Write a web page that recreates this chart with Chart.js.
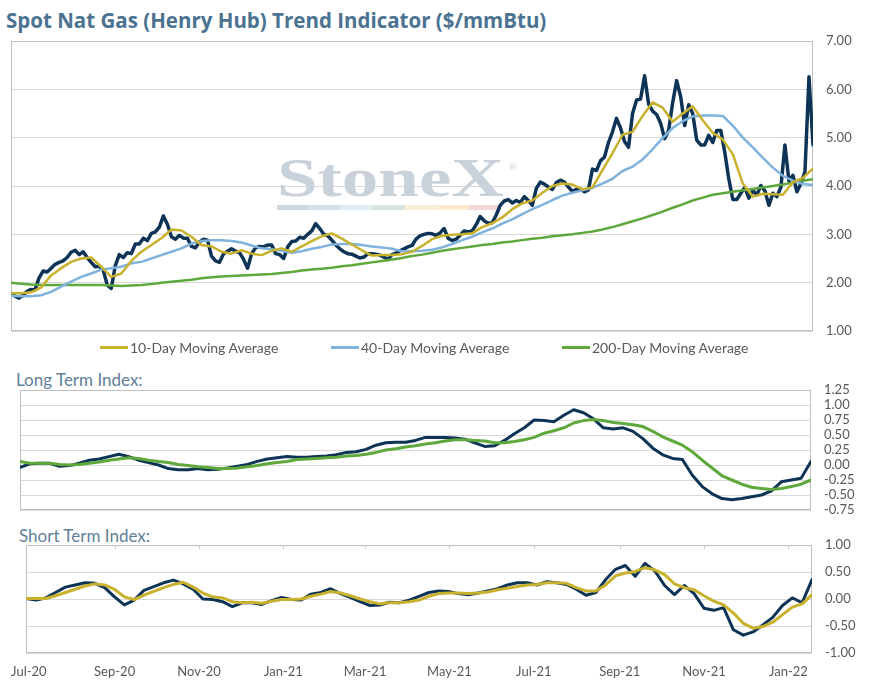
<!DOCTYPE html>
<html>
<head>
<meta charset="utf-8">
<title>Spot Nat Gas (Henry Hub) Trend Indicator</title>
<script src="https://cdn.jsdelivr.net/npm/chart.js@4.4.1/dist/chart.umd.min.js"></script>
<style>
  body { margin: 0; background: #fff; width: 875px; height: 685px; position: relative; overflow: hidden; font-family: Lato, sans-serif; }
  canvas { position: absolute; left: 0; }
  #title { position: absolute; left: 6px; top: 6px; font-family: "Open Sans", sans-serif; font-size: 20.5px; font-weight: bold; color: #4b7391; white-space: nowrap; }
  .sub { position: absolute; font-size: 17px; color: #5f8098; white-space: nowrap; }
  #legend { position: absolute; left: 100px; top: 339px; display: flex; font-size: 14px; color: #595959; }
  #legend .item { width: 231px; display: flex; align-items: center; white-space: nowrap; }
  #legend .swatch { width: 28px; height: 3px; margin-right: 2px; }
</style>
</head>
<body>
<div id="title">Spot Nat Gas (Henry Hub) Trend Indicator ($/mmBtu)</div>
<canvas id="priceChart" width="875" height="310" style="top:31px"></canvas>
<div id="legend"></div>
<div class="sub" style="left:16px;top:369px">Long Term Index:</div>
<canvas id="longChart" width="875" height="140" style="top:380px"></canvas>
<div class="sub" style="left:19px;top:525px">Short Term Index:</div>
<canvas id="shortChart" width="875" height="150" style="top:535px"></canvas>

<script>
// days counted from 29 Jun 2020, last point ~18 Jan 2022
const spanDays = 568;
const spotStep = 2.84;   // spot sampled roughly every other trading day
const weekStep = 7.1;    // averages / indices sampled weekly

const monthLabels = ['Jul-20', 'Sep-20', 'Nov-20', 'Jan-21', 'Mar-21', 'May-21', 'Jul-21', 'Sep-21', 'Nov-21', 'Jan-22'];
const monthDays = [2, 64, 125, 186, 245, 306, 367, 429, 490, 551];

const priceTicks = [1, 2, 3, 4, 5, 6, 7];
const longTicks = [-0.75, -0.5, -0.25, 0, 0.25, 0.5, 0.75, 1, 1.25];
const shortTicks = [-1, -0.5, 0, 0.5, 1];

// Henry Hub spot, $/mmBtu
const spotPrice = [
  1.78, 1.72, 1.68, 1.74, 1.82, 1.86, 1.85, 2.10, 2.24, 2.22,
  2.30, 2.38, 2.42, 2.45, 2.52, 2.63, 2.67, 2.58, 2.64, 2.52,
  2.42, 2.33, 2.34, 2.26, 1.95, 1.88, 2.35, 2.58, 2.52, 2.62,
  2.60, 2.80, 2.80, 2.92, 2.87, 3.02, 3.05, 3.15, 3.38, 3.21,
  2.95, 2.90, 2.98, 2.92, 2.92, 2.75, 2.72, 2.84, 2.90, 2.88,
  2.55, 2.45, 2.42, 2.60, 2.65, 2.70, 2.65, 2.62, 2.48, 2.30,
  2.60, 2.72, 2.75, 2.74, 2.78, 2.78, 2.60, 2.58, 2.50, 2.74,
  2.85, 2.86, 2.94, 2.92, 3.00, 3.07, 3.22, 3.12, 3.00, 2.97,
  2.88, 2.78, 2.70, 2.64, 2.60, 2.59, 2.55, 2.51, 2.53, 2.60,
  2.60, 2.59, 2.57, 2.53, 2.48, 2.58, 2.61, 2.66, 2.70, 2.74,
  2.77, 2.90, 2.97, 3.00, 3.02, 3.01, 2.98, 3.03, 3.12, 2.92,
  2.87, 2.90, 2.98, 3.07, 3.05, 3.07, 3.20, 3.37, 3.28, 3.23,
  3.24, 3.40, 3.60, 3.69, 3.72, 3.65, 3.70, 3.66, 3.78, 3.70,
  3.60, 3.95, 4.08, 4.04, 3.98, 3.93, 4.07, 4.12, 4.08, 3.98,
  3.89, 3.93, 3.94, 3.88, 3.92, 4.35, 4.32, 4.52, 4.60, 4.90,
  5.12, 5.40, 5.20, 4.92, 4.80, 5.50, 5.78, 5.80, 6.28, 5.70,
  5.55, 5.48, 5.30, 4.98, 5.15, 5.72, 6.18, 5.85, 5.25, 5.68,
  5.50, 4.95, 4.85, 4.85, 5.05, 4.90, 5.15, 5.15, 4.70, 4.15,
  3.72, 3.72, 3.85, 3.97, 3.75, 3.90, 3.82, 4.01, 3.90, 3.60,
  3.85, 3.78, 3.98, 4.85, 4.10, 4.22, 3.88, 4.05, 4.30, 6.26,
  4.85
];

const ma10 = [
  1.78, 1.78, 1.80, 1.90, 2.15, 2.30, 2.43, 2.50, 2.52, 2.33,
  2.12, 2.19, 2.45, 2.64, 2.78, 2.92, 3.10, 3.08, 2.95, 2.78,
  2.75, 2.64, 2.60, 2.67, 2.60, 2.57, 2.66, 2.71, 2.64, 2.75,
  2.86, 2.96, 3.02, 2.91, 2.79, 2.67, 2.56, 2.57, 2.57, 2.59,
  2.64, 2.76, 2.90, 2.97, 2.99, 3.00, 3.02, 3.15, 3.23, 3.35,
  3.52, 3.64, 3.70, 3.86, 4.00, 4.05, 4.03, 3.93, 3.97, 4.33,
  4.68, 5.06, 5.12, 5.45, 5.73, 5.62, 5.33, 5.50, 5.65, 5.36,
  5.10, 4.96, 4.66, 4.05, 3.78, 3.84, 3.83, 3.82, 4.08, 4.17,
  4.36
];

const ma40 = [
  1.73, 1.72, 1.72, 1.74, 1.81, 1.92, 2.02, 2.12, 2.19, 2.27,
  2.30, 2.33, 2.40, 2.43, 2.50, 2.57, 2.64, 2.71, 2.81, 2.86,
  2.88, 2.88, 2.86, 2.83, 2.77, 2.71, 2.69, 2.66, 2.62, 2.65,
  2.70, 2.74, 2.79, 2.80, 2.80, 2.78, 2.75, 2.73, 2.70, 2.65,
  2.65, 2.66, 2.68, 2.73, 2.80, 2.88, 2.95, 3.04, 3.12, 3.22,
  3.31, 3.42, 3.52, 3.61, 3.71, 3.80, 3.86, 3.91, 3.96, 4.05,
  4.15, 4.31, 4.40, 4.55, 4.76, 4.99, 5.20, 5.34, 5.44, 5.46,
  5.46, 5.45, 5.25, 5.00, 4.80, 4.58, 4.38, 4.21, 4.11, 4.04,
  4.02
];

const ma200 = [
  2.00, 1.98, 1.96, 1.95, 1.95, 1.95, 1.95, 1.95, 1.95, 1.95,
  1.94, 1.93, 1.94, 1.95, 1.97, 2.00, 2.02, 2.04, 2.06, 2.09,
  2.11, 2.13, 2.14, 2.15, 2.16, 2.17, 2.18, 2.20, 2.22, 2.25,
  2.27, 2.29, 2.31, 2.34, 2.36, 2.39, 2.42, 2.45, 2.48, 2.51,
  2.55, 2.58, 2.62, 2.66, 2.69, 2.72, 2.75, 2.78, 2.80, 2.83,
  2.85, 2.88, 2.91, 2.93, 2.96, 2.98, 3.00, 3.03, 3.06, 3.10,
  3.15, 3.21, 3.27, 3.33, 3.40, 3.47, 3.55, 3.62, 3.70, 3.76,
  3.82, 3.85, 3.88, 3.91, 3.94, 3.97, 4.00, 4.03, 4.07, 4.11,
  4.14
];

const longIndex = [
  -0.04, 0.02, 0.03, 0.03, -0.02, -0.01, 0.03, 0.08, 0.10, 0.14,
  0.18, 0.14, 0.08, 0.04, 0.00, -0.06, -0.08, -0.08, -0.06, -0.08,
  -0.07, -0.05, -0.02, 0.01, 0.06, 0.10, 0.12, 0.14, 0.13, 0.13,
  0.14, 0.15, 0.17, 0.21, 0.22, 0.26, 0.33, 0.37, 0.38, 0.38,
  0.41, 0.46, 0.46, 0.46, 0.45, 0.43, 0.37, 0.31, 0.32, 0.41,
  0.52, 0.62, 0.75, 0.74, 0.72, 0.83, 0.92, 0.87, 0.77, 0.62,
  0.60, 0.62, 0.56, 0.44, 0.28, 0.17, 0.11, 0.09, -0.17, -0.36,
  -0.48, -0.56, -0.58, -0.56, -0.53, -0.50, -0.43, -0.28, -0.25, -0.22,
  0.06
];

const longSignal = [
  0.06, 0.03, 0.03, 0.03, 0.01, 0.00, 0.01, 0.03, 0.05, 0.08,
  0.10, 0.12, 0.11, 0.08, 0.06, 0.04, 0.01, -0.01, -0.03, -0.04,
  -0.06, -0.06, -0.05, -0.03, -0.01, 0.02, 0.04, 0.06, 0.09, 0.10,
  0.11, 0.12, 0.13, 0.15, 0.16, 0.18, 0.21, 0.25, 0.27, 0.30,
  0.32, 0.35, 0.37, 0.40, 0.42, 0.42, 0.41, 0.40, 0.37, 0.37,
  0.39, 0.42, 0.46, 0.53, 0.57, 0.62, 0.70, 0.74, 0.76, 0.74,
  0.71, 0.69, 0.67, 0.64, 0.56, 0.47, 0.40, 0.33, 0.22, 0.08,
  -0.05, -0.18, -0.25, -0.32, -0.37, -0.39, -0.41, -0.39, -0.36, -0.32,
  -0.25
];

const shortIndex = [
  0.01, -0.02, 0.02, 0.12, 0.22, 0.26, 0.30, 0.29, 0.21, 0.04,
  -0.11, -0.02, 0.16, 0.23, 0.30, 0.35, 0.28, 0.18, 0.00, -0.01,
  -0.05, -0.14, -0.07, -0.07, -0.10, -0.03, 0.03, -0.01, -0.02, 0.09,
  0.12, 0.19, 0.10, 0.03, -0.05, -0.12, -0.11, -0.06, -0.07, -0.02,
  0.05, 0.12, 0.15, 0.14, 0.10, 0.08, 0.11, 0.15, 0.19, 0.26,
  0.30, 0.30, 0.26, 0.32, 0.30, 0.27, 0.18, 0.07, 0.12, 0.36,
  0.55, 0.62, 0.42, 0.66, 0.52, 0.25, 0.08, 0.25, 0.10, -0.17,
  -0.21, -0.16, -0.57, -0.67, -0.61, -0.48, -0.34, -0.12, 0.02, -0.07,
  0.36
];

const shortSignal = [
  0.01, 0.01, 0.01, 0.06, 0.12, 0.18, 0.24, 0.28, 0.26, 0.18,
  0.04, -0.01, 0.07, 0.14, 0.21, 0.27, 0.31, 0.22, 0.11, 0.04,
  0.02, -0.05, -0.07, -0.06, -0.08, -0.04, -0.01, -0.01, 0.00, 0.05,
  0.09, 0.14, 0.11, 0.06, 0.00, -0.05, -0.09, -0.07, -0.07, -0.05,
  -0.02, 0.05, 0.10, 0.11, 0.11, 0.10, 0.11, 0.13, 0.17, 0.20,
  0.23, 0.26, 0.27, 0.30, 0.30, 0.29, 0.21, 0.15, 0.15, 0.26,
  0.43, 0.48, 0.51, 0.58, 0.54, 0.45, 0.28, 0.21, 0.17, 0.06,
  -0.04, -0.11, -0.26, -0.45, -0.54, -0.51, -0.43, -0.29, -0.15, -0.09,
  0.08
];

const NAVY = '#0d3456';
const GOLD = '#c8b12c';
const SKY = '#7fb2dc';
const GREEN = '#5ea83c';

Chart.defaults.font.family = 'Lato';
Chart.defaults.color = '#595959';

const toPoints = (vals, step) => vals.map((v, i) => ({ x: i * step, y: v }));

const lineSet = (label, vals, step, color, width) => ({
  label,
  data: toPoints(vals, step),
  borderColor: color,
  backgroundColor: color,
  borderWidth: width,
  pointRadius: 0,
  tension: 0,
  borderJoinStyle: 'round',
  borderCapStyle: 'round'
});

function xAxis(show) {
  const axis = {
    type: 'linear',
    min: 0,
    max: spanDays,
    display: show,
    grid: { display: false, drawTicks: false },
    border: { display: false }
  };
  if (show) {
    axis.afterBuildTicks = s => { s.ticks = monthDays.map(v => ({ value: v })); };
    axis.afterFit = s => { s.height = 32; };
    axis.ticks = {
      padding: 11, autoSkip: false, maxRotation: 0,
      font: { size: 13 },
      callback: (v, i) => monthLabels[i]
    };
  }
  return axis;
}

// right-hand value axis; the gap to the labels comes from an invisible tick
// so it does not add to the vertical padding
function yAxis(min, max, ticks, width) {
  return {
    position: 'right',
    min,
    max,
    afterBuildTicks: s => { s.ticks = ticks.map(v => ({ value: v })); },
    afterFit: s => { s.width = width; },
    grid: { color: '#d9d9d9', drawTicks: true, tickLength: 13, tickColor: 'rgba(0,0,0,0)' },
    border: { display: false },
    ticks: {
      padding: 0, autoSkip: false,
      font: { size: 13 },
      callback: v => v.toFixed(2)
    }
  };
}

// thin grey box round the plot area
const frame = {
  id: 'frame',
  beforeDatasetsDraw(chart) {
    const { ctx, chartArea: a } = chart;
    ctx.save();
    ctx.strokeStyle = '#bfbfbf';
    ctx.lineWidth = 1;
    ctx.strokeRect(Math.round(a.left) + 0.5, Math.round(a.top) + 0.5,
      Math.round(a.right - a.left) - 1, Math.round(a.bottom - a.top) - 1);
    ctx.restore();
  }
};

// short month ticks hanging from the top edge of the lower panel
const topTicks = {
  id: 'topTicks',
  beforeDatasetsDraw(chart) {
    const { ctx, chartArea: a, scales } = chart;
    ctx.save();
    ctx.strokeStyle = '#c8c8c8';
    ctx.lineWidth = 1;
    ctx.beginPath();
    monthDays.slice(1).forEach(d => {
      const px = Math.round(scales.x.getPixelForValue(d)) + 0.5;
      ctx.moveTo(px, a.top);
      ctx.lineTo(px, a.top + 4);
    });
    ctx.stroke();
    ctx.restore();
  }
};

// faded company mark behind the price lines
const stripeColors = ['#cfd7df', '#d7e0ea', '#e2edf3', '#d8e5dc', '#f8f1d7', '#fbead0', '#f2d6d8'];
const watermark = {
  id: 'watermark',
  beforeDatasetsDraw(chart) {
    const { ctx } = chart;
    const left = 277, right = 504, base = 165;
    ctx.save();
    ctx.font = 'bold 55px "Liberation Serif", serif';
    const w = ctx.measureText('StoneX').width;
    ctx.fillStyle = '#c9d2da';
    ctx.translate(left, base);
    ctx.scale((right - left) / w, 1);
    ctx.fillText('StoneX', 0, 0);
    ctx.restore();
    ctx.save();
    stripeColors.forEach((c, i) => {
      ctx.fillStyle = c;
      ctx.fillRect(left + i * 32, 174, 32, 5);
    });
    ctx.fillStyle = '#cfd6dd';
    ctx.font = '9px Lato';
    ctx.fillText('\u00AE', 509, 139);
    ctx.restore();
  }
};

const htmlLegend = {
  id: 'htmlLegend',
  afterUpdate(chart) {
    const box = document.getElementById('legend');
    box.innerHTML = '';
    chart.data.datasets.filter(ds => ds.label).forEach(ds => {
      const item = document.createElement('div');
      item.className = 'item';
      const sw = document.createElement('span');
      sw.className = 'swatch';
      sw.style.background = ds.borderColor;
      const tx = document.createElement('span');
      tx.textContent = ds.label;
      item.append(sw, tx);
      box.append(item);
    });
  }
};

function baseOptions(padding, x, y) {
  return {
    responsive: false,
    animation: false,
    events: [],
    layout: { padding },
    plugins: { legend: { display: false }, tooltip: { enabled: false } },
    scales: { x, y }
  };
}

new Chart(document.getElementById('priceChart'), {
  type: 'line',
  data: {
    datasets: [
      lineSet('10-Day Moving Average', ma10, weekStep, GOLD, 2.5),
      lineSet('40-Day Moving Average', ma40, weekStep, SKY, 2.5),
      lineSet('200-Day Moving Average', ma200, weekStep, GREEN, 2.5),
      lineSet('', spotPrice, spotStep, NAVY, 3.5)
    ]
  },
  options: baseOptions({ left: 11, top: 10, right: 0, bottom: 10 },
    xAxis(false), yAxis(1, 7, priceTicks, 62)),
  plugins: [frame, watermark, htmlLegend]
});

new Chart(document.getElementById('longChart'), {
  type: 'line',
  data: {
    datasets: [
      lineSet('', longSignal, weekStep, GREEN, 3),
      lineSet('', longIndex, weekStep, NAVY, 3)
    ]
  },
  options: baseOptions({ left: 20, top: 10, right: 0, bottom: 10 },
    xAxis(false), yAxis(-0.75, 1.25, longTicks, 64)),
  plugins: [frame]
});

new Chart(document.getElementById('shortChart'), {
  type: 'line',
  data: {
    datasets: [
      lineSet('', shortSignal, weekStep, GOLD, 3),
      lineSet('', shortIndex, weekStep, NAVY, 3)
    ]
  },
  options: baseOptions({ left: 23, top: 10, right: 0, bottom: 0 },
    xAxis(true), yAxis(-1, 1, shortTicks, 63)),
  plugins: [frame, topTicks]
});
</script>
</body>
</html>
